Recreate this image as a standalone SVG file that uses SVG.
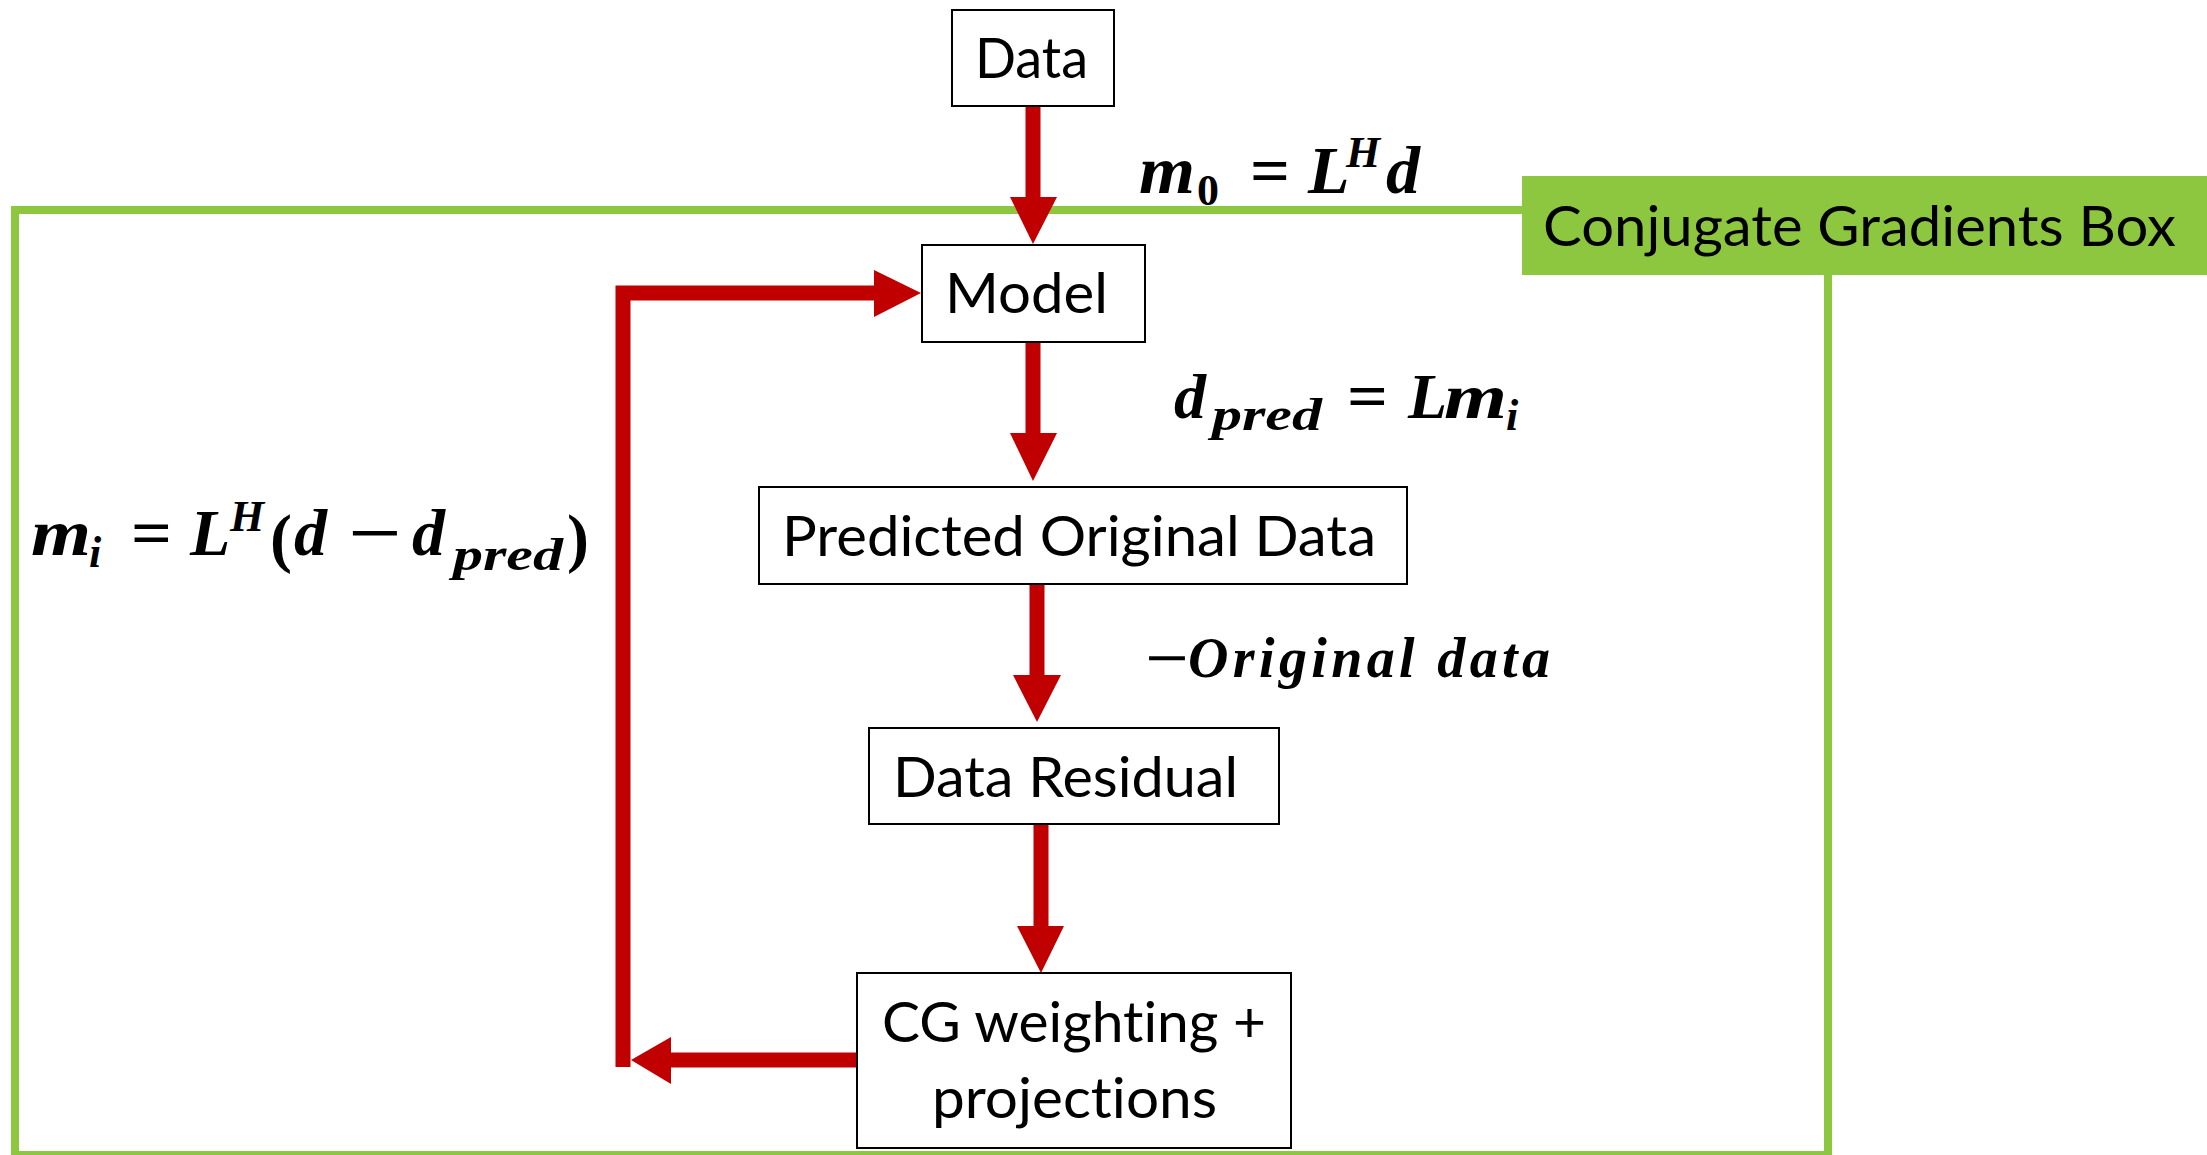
<svg xmlns="http://www.w3.org/2000/svg" width="2207" height="1155" viewBox="0 0 2207 1155">
  <style>
    .box { fill: #ffffff; stroke: #000000; stroke-width: 2; }
    .lbl { font-family: Lato, "Liberation Sans", sans-serif; font-size: 57px; fill: #000000; font-variant-ligatures: none; }
    .math { font-family: "Liberation Serif", "DejaVu Serif", serif; font-weight: bold; font-style: italic; fill: #000000; }
    .up { font-style: normal; }
    .wire { fill: none; stroke: #C00000; stroke-width: 15; stroke-linejoin: miter; stroke-linecap: butt; }
    .head { fill: #C00000; }
  </style>

  <rect width="2207" height="1155" fill="#ffffff"/>

  <!-- conjugate gradients frame -->
  <g id="cg-frame">
    <rect x="15" y="210" width="1813" height="945" fill="none" stroke="#8DC63F" stroke-width="8"/>
    <rect x="1522" y="176" width="700" height="99" fill="#8DC63F"/>
    <text class="lbl" x="1543" y="246" textLength="633" lengthAdjust="spacingAndGlyphs">Conjugate Gradients Box</text>
  </g>

  <!-- connectors -->
  <g id="connectors">
    <!-- Data -> Model -->
    <line class="wire" x1="1033" y1="105" x2="1033" y2="198"/>
    <polygon class="head" points="1010,197 1057,197 1033,244"/>
    <!-- Model -> Predicted Original Data -->
    <line class="wire" x1="1033" y1="342" x2="1033" y2="434"/>
    <polygon class="head" points="1010,433 1057,433 1033,481"/>
    <!-- Predicted Original Data -> Data Residual -->
    <line class="wire" x1="1037" y1="585" x2="1037" y2="676"/>
    <polygon class="head" points="1013,675 1061,675 1037,722"/>
    <!-- Data Residual -> CG weighting -->
    <line class="wire" x1="1041" y1="824" x2="1041" y2="927"/>
    <polygon class="head" points="1017,926 1064,926 1041,973"/>
    <!-- CG weighting -> back to Model -->
    <line class="wire" x1="857" y1="1060" x2="670" y2="1060"/>
    <polygon class="head" points="671,1037 671,1084 631,1060"/>
    <path class="wire" d="M 623 1067 V 293 H 875"/>
    <polygon class="head" points="874,270 874,317 921,293"/>
  </g>

  <!-- nodes -->
  <g id="node-data">
    <rect class="box" x="952" y="10" width="162" height="96"/>
    <text class="lbl" x="975" y="78" textLength="113" lengthAdjust="spacingAndGlyphs">Data</text>
  </g>
  <g id="node-model">
    <rect class="box" x="922" y="245" width="223" height="97"/>
    <text class="lbl" x="945" y="313" textLength="163" lengthAdjust="spacingAndGlyphs">Model</text>
  </g>
  <g id="node-predicted">
    <rect class="box" x="759" y="487" width="648" height="97"/>
    <text class="lbl" x="782" y="556" textLength="594" lengthAdjust="spacingAndGlyphs">Predicted Original Data</text>
  </g>
  <g id="node-residual">
    <rect class="box" x="869" y="728" width="410" height="96"/>
    <text class="lbl" x="893" y="797" textLength="345" lengthAdjust="spacingAndGlyphs">Data Residual</text>
  </g>
  <g id="node-cg">
    <rect class="box" x="857" y="973" width="434" height="175"/>
    <text class="lbl" x="882" y="1042" textLength="384" lengthAdjust="spacingAndGlyphs">CG weighting +</text>
    <text class="lbl" x="932" y="1118" textLength="285" lengthAdjust="spacingAndGlyphs">projections</text>
  </g>

  <!-- equations -->
  <g id="eq-m0">
    <text class="math" font-size="68" x="1139" y="193" textLength="56" lengthAdjust="spacingAndGlyphs">m</text>
    <text class="math up" font-size="44" x="1197" y="205">0</text>
    <text class="math up" font-size="68" x="1250" y="193" textLength="40" lengthAdjust="spacingAndGlyphs">=</text>
    <text class="math" font-size="68" x="1308" y="193">L</text>
    <text class="math" font-size="44" x="1346" y="167">H</text>
    <text class="math" font-size="68" x="1386" y="193">d</text>
  </g>
  <g id="eq-dpred">
    <text class="math" font-size="64" x="1174" y="418">d</text>
    <text class="math" font-size="46" x="1212" y="430" textLength="110" lengthAdjust="spacingAndGlyphs">pred</text>
    <text class="math up" font-size="64" x="1347" y="418" textLength="41" lengthAdjust="spacingAndGlyphs">=</text>
    <text class="math" font-size="64" x="1408" y="418">L</text>
    <text class="math" font-size="64" x="1444" y="418" textLength="63" lengthAdjust="spacingAndGlyphs">m</text>
    <text class="math" font-size="44" x="1506" y="430">i</text>
  </g>
  <g id="eq-original">
    <text class="math up" font-size="56" x="1145" y="677" textLength="44" lengthAdjust="spacingAndGlyphs">−</text>
    <text class="math" font-size="56" x="1188" y="677" textLength="362" lengthAdjust="spacing">Original data</text>
  </g>
  <g id="eq-mi">
    <text class="math" font-size="66" x="31" y="555" textLength="60" lengthAdjust="spacingAndGlyphs">m</text>
    <text class="math" font-size="44" x="89" y="567">i</text>
    <text class="math up" font-size="66" x="131" y="555" textLength="41" lengthAdjust="spacingAndGlyphs">=</text>
    <text class="math" font-size="66" x="190" y="555">L</text>
    <text class="math" font-size="44" x="230" y="531">H</text>
    <text class="math up" font-size="66" font-weight="normal" x="270" y="560">(</text>
    <text class="math" font-size="66" x="294" y="555">d</text>
    <text class="math up" font-size="66" x="348" y="555" textLength="54" lengthAdjust="spacingAndGlyphs">−</text>
    <text class="math" font-size="66" x="412" y="555">d</text>
    <text class="math" font-size="46" x="453" y="570" textLength="110" lengthAdjust="spacingAndGlyphs">pred</text>
    <text class="math up" font-size="66" font-weight="normal" x="567" y="560">)</text>
  </g>
</svg>
